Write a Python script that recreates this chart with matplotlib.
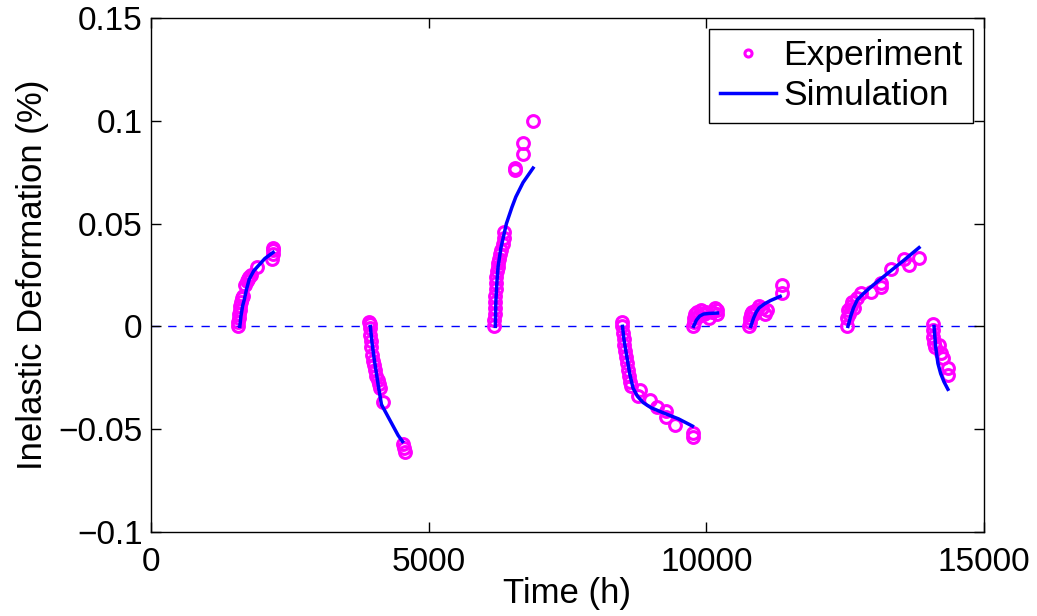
import numpy as np
import matplotlib.pyplot as plt

plt.rcParams['font.family'] = ['Liberation Sans', 'DejaVu Sans']

# experiment points, one list pair per loading step
exp_t = [
    [1560, 1570, 1580, 1590, 1600, 1610, 1620, 1640, 1660, 1690, 1720, 1740, 1770, 1800, 1900, 2180, 2190, 2200, 2200],
    [3930, 3940, 3950, 3950, 3960, 3970, 3980, 4000, 4020, 4040, 4060, 4080, 4100, 4120, 4170, 4530, 4550, 4570],
    [6170, 6180, 6190, 6190, 6200, 6200, 6210, 6210, 6220, 6230, 6240, 6250, 6260, 6280, 6300, 6330, 6350, 6350,
     6550, 6550, 6700, 6700, 6880],
    [8480, 8490, 8500, 8510, 8520, 8530, 8550, 8570, 8590, 8610, 8630, 8650, 8770, 8810, 8990, 9110, 9280, 9280,
     9440, 9760, 9760],
    [9760, 9770, 9780, 9800, 9830, 9870, 9900, 9950, 10000, 10050, 10100, 10150, 10200, 10200],
    [10770, 10780, 10790, 10800, 10820, 10850, 10900, 10950, 11000, 11050, 11100, 11370, 11370],
    [12540, 12540, 12550, 12560, 12600, 12630, 12650, 12720, 12780, 12960, 13140, 13140, 13320, 13560, 13650, 13830],
    [14080, 14090, 14090, 14100, 14110, 14190, 14220, 14260, 14350, 14350],
]
exp_y = [
    [0.000, 0.002, 0.004, 0.006, 0.008, 0.010, 0.012, 0.014, 0.015, 0.020, 0.022, 0.023, 0.024, 0.025, 0.029, 0.033, 0.035, 0.037, 0.038],
    [0.002, 0.001, -0.001, -0.004, -0.007, -0.010, -0.014, -0.017, -0.019, -0.021, -0.024, -0.026, -0.028, -0.030, -0.037, -0.057, -0.059, -0.061],
    [0.000, 0.003, 0.006, 0.009, 0.012, 0.015, 0.018, 0.021, 0.024, 0.027, 0.029, 0.031, 0.033, 0.035, 0.037, 0.040, 0.043, 0.046,
     0.076, 0.077, 0.084, 0.089, 0.100],
    [0.002, 0.000, -0.003, -0.006, -0.009, -0.012, -0.015, -0.018, -0.021, -0.024, -0.027, -0.029, -0.034, -0.031, -0.036, -0.039, -0.041, -0.044,
     -0.048, -0.052, -0.054],
    [0.000, 0.002, 0.004, 0.006, 0.007, 0.005, 0.008, 0.006, 0.007, 0.004, 0.007, 0.009, 0.006, 0.008],
    [0.000, 0.002, 0.004, 0.006, 0.007, 0.006, 0.008, 0.010, 0.009, 0.006, 0.008, 0.016, 0.020],
    [0.000, 0.004, 0.008, 0.006, 0.010, 0.012, 0.009, 0.014, 0.016, 0.0165, 0.021, 0.019, 0.0277, 0.033, 0.030, 0.0335],
    [0.001, -0.002, -0.005, -0.008, -0.010, -0.009, -0.013, -0.0155, -0.0204, -0.0238],
]

# simulation curves
sim_t = [
    [1600, 1620, 1650, 1680, 1720, 1770, 1850, 1950, 2050, 2200],
    [3950, 3980, 4020, 4060, 4100, 4150, 4250, 4350, 4450, 4530],
    [6200, 6210, 6230, 6250, 6300, 6350, 6400, 6500, 6570, 6700, 6880],
    [8490, 8520, 8570, 8620, 8680, 8760, 8860, 9000, 9220, 9500, 9750],
    [9770, 9820, 9880, 9950, 10050, 10200],
    [10800, 10850, 10900, 10950, 11050, 11150, 11330],
    [12550, 12600, 12650, 12720, 12830, 13000, 13260, 13550, 13830],
    [14100, 14130, 14170, 14220, 14280, 14350],
]
sim_y = [
    [0.000, 0.005, 0.010, 0.013, 0.018, 0.023, 0.027, 0.030, 0.033, 0.036],
    [0.000, -0.008, -0.016, -0.023, -0.030, -0.038, -0.043, -0.048, -0.053, -0.056],
    [0.000, 0.012, 0.022, 0.029, 0.038, 0.044, 0.050, 0.058, 0.063, 0.070, 0.077],
    [0.000, -0.007, -0.015, -0.023, -0.030, -0.034, -0.037, -0.0395, -0.042, -0.045, -0.0485],
    [0.000, 0.003, 0.005, 0.006, 0.0063, 0.0065],
    [0.000, 0.004, 0.007, 0.009, 0.011, 0.0125, 0.0146],
    [0.000, 0.005, 0.009, 0.013, 0.016, 0.020, 0.0257, 0.032, 0.0383],
    [0.000, -0.010, -0.018, -0.023, -0.027, -0.0306],
]

fig = plt.figure(figsize=(10.37, 6.16), dpi=100)
ax = fig.add_axes([0.1456, 0.1364, 0.8033, 0.8344])

ax.axhline(0, color='blue', lw=1, dashes=(6, 6), zorder=1)

for i in range(len(exp_t)):
    ax.plot(exp_t[i], exp_y[i], 'o', mfc='none', mec='magenta', mew=2.2, ms=8.5,
            label='Experiment' if i == 0 else None, zorder=2)
for i in range(len(sim_t)):
    ax.plot(sim_t[i], sim_y[i], '-', color='blue', lw=2.5,
            label='Simulation' if i == 0 else None, zorder=3)

ax.set_xlim(0, 15000)
ax.set_ylim(-0.1, 0.15)
ax.set_xticks([0, 5000, 10000, 15000])
ax.set_yticks([-0.1, -0.05, 0, 0.05, 0.1, 0.15])
ax.set_yticklabels(['\u22120.1', '\u22120.05', '0', '0.05', '0.1', '0.15'])
ax.tick_params(direction='in', length=7, width=1, top=True, right=True, labelsize=24, pad=6)
ax.tick_params(axis='x', pad=11)
for s in ax.spines.values():
    s.set_linewidth(1)

ax.set_xlabel('Time (h)', fontsize=25, labelpad=-1)
ax.set_ylabel('Inelastic Deformation (%)', fontsize=25, labelpad=7)

leg = ax.legend(loc='upper right', fontsize=25.5, frameon=True, fancybox=False, framealpha=1,
                edgecolor='black', markerscale=0.6, borderaxespad=0.3, handlelength=1.6,
                handletextpad=0.2, borderpad=0.3, labelspacing=0.2)
leg.get_frame().set_linewidth(1)

fig.savefig('out.png', dpi=100)
